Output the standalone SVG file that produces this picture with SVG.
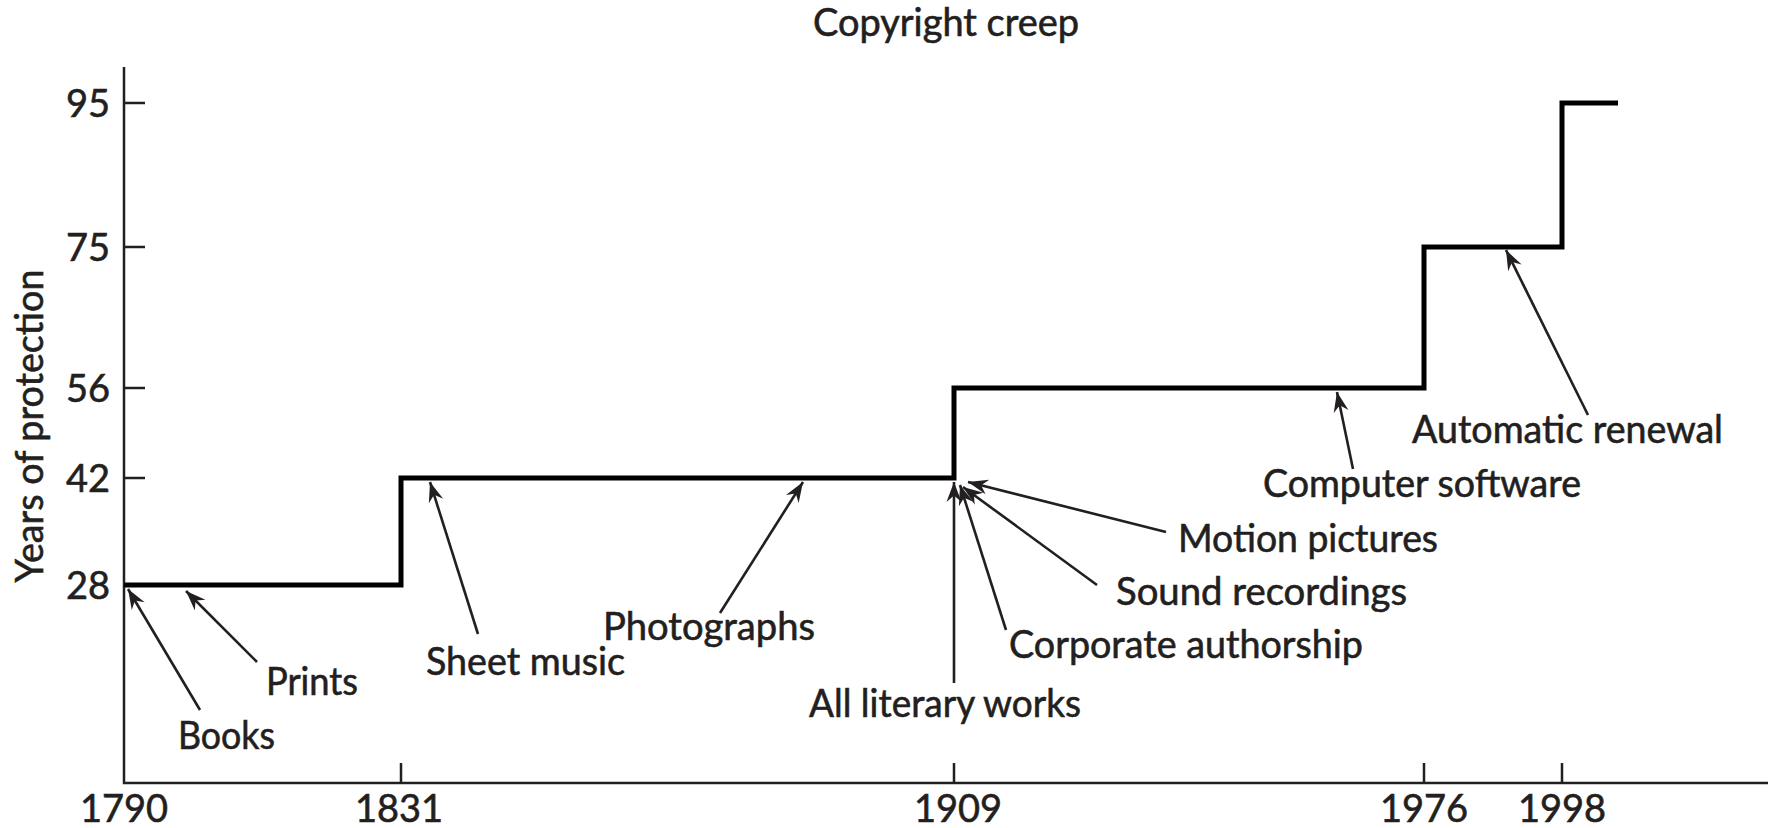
<svg xmlns="http://www.w3.org/2000/svg" width="1775" height="828" viewBox="0 0 1775 828">
<style>
text { font-family: "Lato", "Liberation Sans", sans-serif; font-size: 38px; fill: #231f20; stroke: #231f20; stroke-width: 0.6px; }
.yl { text-anchor: end; }
.xl { text-anchor: middle; }
.axis { stroke: #231f20; stroke-width: 2.5; fill: none; }
.step { stroke: #000; stroke-width: 5; fill: none; stroke-linejoin: miter; }
.arr { stroke: #231f20; stroke-width: 2.6; fill: none; marker-end: url(#ah); }
</style>
<defs>
<marker id="ah" viewBox="-21 -8 22 16" refX="0" refY="0" markerWidth="22" markerHeight="16" markerUnits="userSpaceOnUse" orient="auto">
<path d="M0,0 L-20,-7.5 L-13.5,0 L-20,7.5 Z" fill="#231f20"/>
</marker>
</defs>
<rect width="1775" height="828" fill="#fff"/>
<g id="title"><text x="813" y="36" textLength="266" lengthAdjust="spacingAndGlyphs">Copyright creep</text></g>
<g id="axes">
<path class="axis" d="M124,67 V783 H1768"/>
<path class="axis" d="M124,103 H145 M124,247 H145 M124,388 H145 M124,478 H145 M124,585 H145"/>
<path class="axis" d="M401,783 V763 M954,783 V763 M1424,783 V763 M1562,783 V763"/>
<text class="yl" x="110" y="117">95</text>
<text class="yl" x="110" y="261">75</text>
<text class="yl" x="110" y="402">56</text>
<text class="yl" x="110" y="492">42</text>
<text class="yl" x="110" y="599">28</text>
<text class="xl" x="124" y="822">1790</text>
<text class="xl" x="399" y="822">1831</text>
<text class="xl" x="958" y="822">1909</text>
<text class="xl" x="1424" y="822">1976</text>
<text class="xl" x="1562" y="822">1998</text>
<text class="xl" transform="translate(43,426) rotate(-90)" x="0" y="0" textLength="313" lengthAdjust="spacingAndGlyphs">Years of protection</text>
</g>
<g id="step-line"><path class="step" d="M124,585 H401 V478 H954 V388 H1424 V247 H1562 V103 H1618"/></g>
<g id="connectors">
<line class="arr" x1="200" y1="710" x2="128" y2="589"/>
<line class="arr" x1="257" y1="662" x2="186" y2="591"/>
<line class="arr" x1="478" y1="634" x2="430" y2="482"/>
<line class="arr" x1="720" y1="613" x2="803" y2="482"/>
<line class="arr" x1="954" y1="683" x2="954" y2="482"/>
<line class="arr" x1="1006" y1="630" x2="960" y2="485"/>
<line class="arr" x1="1097" y1="585" x2="963" y2="487"/>
<line class="arr" x1="1166" y1="532" x2="968" y2="482"/>
<line class="arr" x1="1353" y1="469" x2="1337" y2="392"/>
<line class="arr" x1="1588" y1="415" x2="1506" y2="250"/>
</g>
<g id="label-books"><text x="178" y="749" textLength="97" lengthAdjust="spacingAndGlyphs">Books</text></g>
<g id="label-prints"><text x="266" y="695" textLength="92" lengthAdjust="spacingAndGlyphs">Prints</text></g>
<g id="label-sheet-music"><text x="426" y="675" textLength="199" lengthAdjust="spacingAndGlyphs">Sheet music</text></g>
<g id="label-photographs"><text x="603" y="640" textLength="212" lengthAdjust="spacingAndGlyphs">Photographs</text></g>
<g id="label-literary"><text x="809" y="717" textLength="272" lengthAdjust="spacingAndGlyphs">All literary works</text></g>
<g id="label-corporate"><text x="1009" y="658" textLength="354" lengthAdjust="spacingAndGlyphs">Corporate authorship</text></g>
<g id="label-sound"><text x="1116" y="605" textLength="291" lengthAdjust="spacingAndGlyphs">Sound recordings</text></g>
<g id="label-motion"><text x="1178" y="552" textLength="260" lengthAdjust="spacingAndGlyphs">Motion pictures</text></g>
<g id="label-software"><text x="1263" y="497" textLength="318" lengthAdjust="spacingAndGlyphs">Computer software</text></g>
<g id="label-renewal"><text x="1412" y="443" textLength="311" lengthAdjust="spacingAndGlyphs">Automatic renewal</text></g>
</svg>
